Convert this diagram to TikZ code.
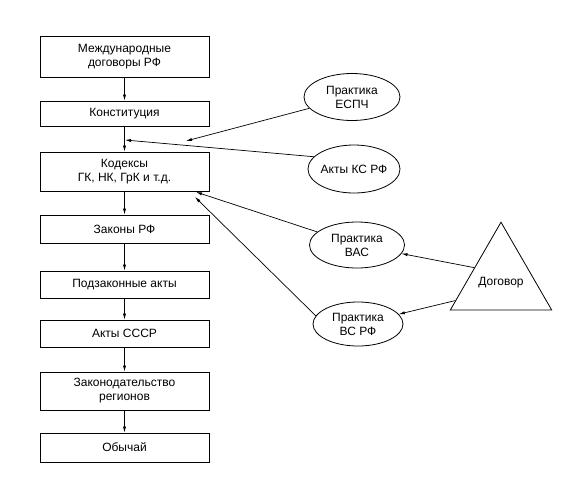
\documentclass[tikz,border=0pt]{standalone}
\usepackage{fontspec}
\setmainfont{Liberation Sans}
\usetikzlibrary{arrows.meta,shapes.geometric,calc}
\begin{document}
\begin{tikzpicture}[x=1pt,y=-1pt,
  every node/.style={font=\fontsize{12}{14}\selectfont, align=center},
  box/.style={draw, line width=0.9pt, rectangle, inner sep=0pt, minimum width=169pt},
  oval/.style={draw, line width=0.8pt, ellipse, inner sep=0pt},
  txt/.style={font=\fontsize{12}{14}\selectfont, align=center, inner sep=0pt},
  arr/.style={line width=0.7pt, -{Latex[length=6pt,width=3.2pt]}}
]
\useasboundingbox (0,0) rectangle (565,480);
% main column
\node[box, minimum height=41pt] (b1) at (124.5,56.5) {Международные\\договоры РФ};
\node[box, minimum height=25pt] (b2) at (124.5,113.5) {Конституция};
\node[box, minimum height=39pt] (b3) at (124.5,171.5) {Кодексы\\ГК, НК, ГрК и т.д.};
\node[box, minimum height=28pt] (b4) at (124.5,229) {Законы РФ};
\node[box, minimum height=27pt] (b5) at (124.5,284.5) {Подзаконные акты};
\node[box, minimum height=27pt] (b6) at (124.5,333.5) {Акты СССР};
\node[box, minimum height=38pt] (b7) at (124.5,391) {Законодательство\\регионов};
\node[box, minimum height=29pt] (b8) at (124.5,447.5) {Обычай};
\foreach \a/\b in {b1/b2,b2/b3,b3/b4,b4/b5,b5/b6,b6/b7,b7/b8}
  \draw[arr] (\a.south) -- (\b.north);
% ellipses
\node[oval, minimum width=96pt, minimum height=47pt, label={[txt]center:Практика\\ЕСПЧ}] (e1) at (352,97) {};
\node[oval, minimum width=92pt, minimum height=48pt, label={[txt]center:Акты КС РФ}] (e2) at (354,169) {};
\node[oval, minimum width=95pt, minimum height=46pt, label={[txt]center:Практика\\ВАС}] (e3) at (357,245) {};
\node[oval, minimum width=90pt, minimum height=44pt, label={[txt]center:Практика\\ВС РФ}] (e4) at (358,324) {};
% triangle
\node[draw, line width=0.8pt, regular polygon, regular polygon sides=3, minimum size=117pt, inner sep=0pt,
      label={[txt, yshift=-2pt]center:Договор}] (tri) at (501,280.7) {};
% free ends
\coordinate (t1) at (186,141);
\coordinate (t2) at (125,140);
\coordinate (t3) at (196,192);
\coordinate (t4) at (195,197);
% connectors
\draw[arr] (e1) -- (t1);
\draw[arr] (e2.163) -- (t2);
\draw[arr] (e3) -- (t3);
\draw[arr] (e4.169) -- (t4);
\draw[arr] ($(tri.corner 1)!0.52!(tri.corner 2)$) -- (e3);
\draw[arr] ($(tri.corner 1)!0.89!(tri.corner 2)$) -- (e4);
\end{tikzpicture}
\end{document}
